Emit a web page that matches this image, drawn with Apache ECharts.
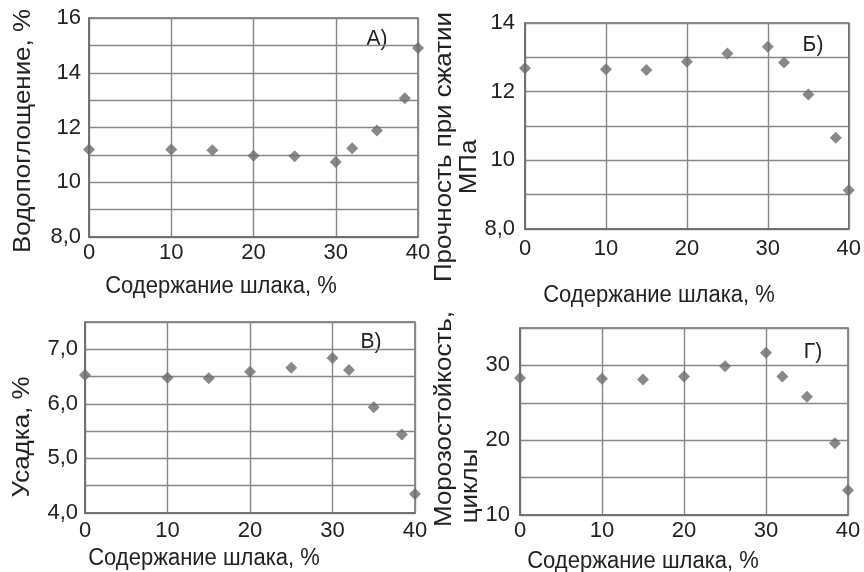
<!DOCTYPE html>
<html><head><meta charset="utf-8">
<script src="https://cdn.jsdelivr.net/npm/echarts@6/dist/echarts.min.js"></script>
<style>html,body{margin:0;padding:0;background:#fff}#c{width:864px;height:572px}</style>
</head><body><div id="c"></div>
<script>
// Shared x values: slag content, %
const slag = [0, 10, 15, 20, 25, 30, 32, 35, 38.4, 40];
const xTicks = [0, 10, 20, 30, 40];
// A) water absorption, %
const waterAbs = [11.2, 11.2, 11.17, 10.97, 10.95, 10.74, 11.24, 11.89, 13.07, 14.9];
// Б) compressive strength, MPa
const strength = [12.68, 12.65, 12.63, 12.87, 13.11, 13.31, 12.85, 11.92, 10.66, 9.13];
// В) shrinkage, %
const shrink = [6.53, 6.48, 6.47, 6.59, 6.66, 6.84, 6.62, 5.94, 5.44, 4.35];
// Г) frost resistance, cycles
const frost = [28.3, 28.2, 28.1, 28.5, 29.9, 31.7, 28.5, 25.8, 19.6, 13.3];

const yLabelsA = {8: '8,0', 10: '10', 12: '12', 14: '14', 16: '16'};
const yLabelsB = {8: '8,0', 10: '10', 12: '12', 14: '14'};
const yLabelsC = {4: '4,0', 5: '5,0', 6: '6,0', 7: '7,0'};
const yLabelsD = {10: '10', 20: '20', 30: '30'};

const xTitle = 'Содержание шлака, %';
const panelTitles = ['А)', 'Б)', 'В)', 'Г)'];

const FONT = '"Liberation Sans", Arial, sans-serif';
const TXT = '#222';
const GRIDC = '#878787';

const grids = [
  {left: 89, top: 18, width: 329, height: 219},
  {left: 525, top: 23, width: 324, height: 206},
  {left: 85, top: 322, width: 330, height: 191},
  {left: 520, top: 328, width: 328, height: 187}
];
grids.forEach(g => Object.assign(g, {show: true, borderColor: '#6a6a6a', borderWidth: 1.5, backgroundColor: 'transparent'}));

const xMargins = [5, 9, 7, 5];
function xAxis(i) {
  return {
    type: 'value', gridIndex: i, min: 0, max: 40, interval: 10,
    axisLine: {show: true, lineStyle: {color: '#6a6a6a', width: 1.5}},
    axisTick: {show: false},
    splitLine: {show: true, lineStyle: {color: GRIDC, width: 1.4}},
    axisLabel: {color: TXT, fontFamily: FONT, fontSize: 22, margin: xMargins[i],
      formatter: v => xTicks.includes(v) ? String(v) : ''}
  };
}
function yAxis(i, min, max, interval, labels, margin) {
  return {
    type: 'value', gridIndex: i, min: min, max: max, interval: interval,
    axisLine: {show: true, lineStyle: {color: '#6a6a6a', width: 1.5}},
    axisTick: {show: false},
    splitLine: {show: true, lineStyle: {color: GRIDC, width: 1.4}},
    axisLabel: {color: TXT, fontFamily: FONT, fontSize: 22, margin: margin,
      showMaxLabel: true, showMinLabel: true,
      formatter: v => {
        const k = Math.round(v * 100) / 100;
        return labels[k] !== undefined ? labels[k] : '';
      }}
  };
}
function series(i, ys) {
  return {
    type: 'scatter', xAxisIndex: i, yAxisIndex: i, clip: false,
    symbol: 'diamond', symbolSize: [12, 12],
    itemStyle: {color: '#6c6c6c'},
    data: slag.map((x, k) => [x, ys[k]])
  };
}
const R = Math.PI / 2;
// horizontal text
function htxt(x, y, s, size) {
  return {type: 'text', x: x, y: y, scaleY: 1.06,
    style: {text: s, fill: TXT, font: (size || 22) + 'px ' + FONT, textAlign: 'center', textVerticalAlign: 'middle'}};
}
// vertical (rotated) text, stretched along its reading direction like the scan
function vtxt(x, y, s) {
  return {type: 'text', x: x, y: y, rotation: R, scaleX: 1.08,
    style: {text: s, fill: TXT, font: '24px ' + FONT, textAlign: 'center', textVerticalAlign: 'middle'}};
}
const option = {
  animation: false,
  grid: grids,
  xAxis: [xAxis(0), xAxis(1), xAxis(2), xAxis(3)],
  yAxis: [
    yAxis(0, 8, 16, 1, yLabelsA, 8),
    yAxis(1, 8, 14, 1, yLabelsB, 10),
    yAxis(2, 4, 7.5, 0.5, yLabelsC, 7),
    yAxis(3, 10, 35, 5, yLabelsD, 10)
  ],
  series: [series(0, waterAbs), series(1, strength), series(2, shrink), series(3, frost)],
  graphic: [
    vtxt(23, 131, 'Водопоглощение, %'),
    htxt(221, 287, xTitle),
    vtxt(444, 147, 'Прочность при сжатии'),
    vtxt(469, 167, 'МПа'),
    htxt(659, 296, xTitle),
    vtxt(22, 437, 'Усадка, %'),
    htxt(204, 559, xTitle),
    vtxt(444, 419, 'Морозостойкость,'),
    vtxt(470, 486, 'циклы'),
    htxt(643, 562, xTitle),
    htxt(377, 39, panelTitles[0], 21),
    htxt(813, 45, panelTitles[1], 21),
    htxt(371, 342, panelTitles[2], 21),
    htxt(813, 352, panelTitles[3], 21)
  ]
};
const chart = echarts.init(document.getElementById('c'), null, {renderer: 'canvas'});
chart.setOption(option);
</script></body></html>
